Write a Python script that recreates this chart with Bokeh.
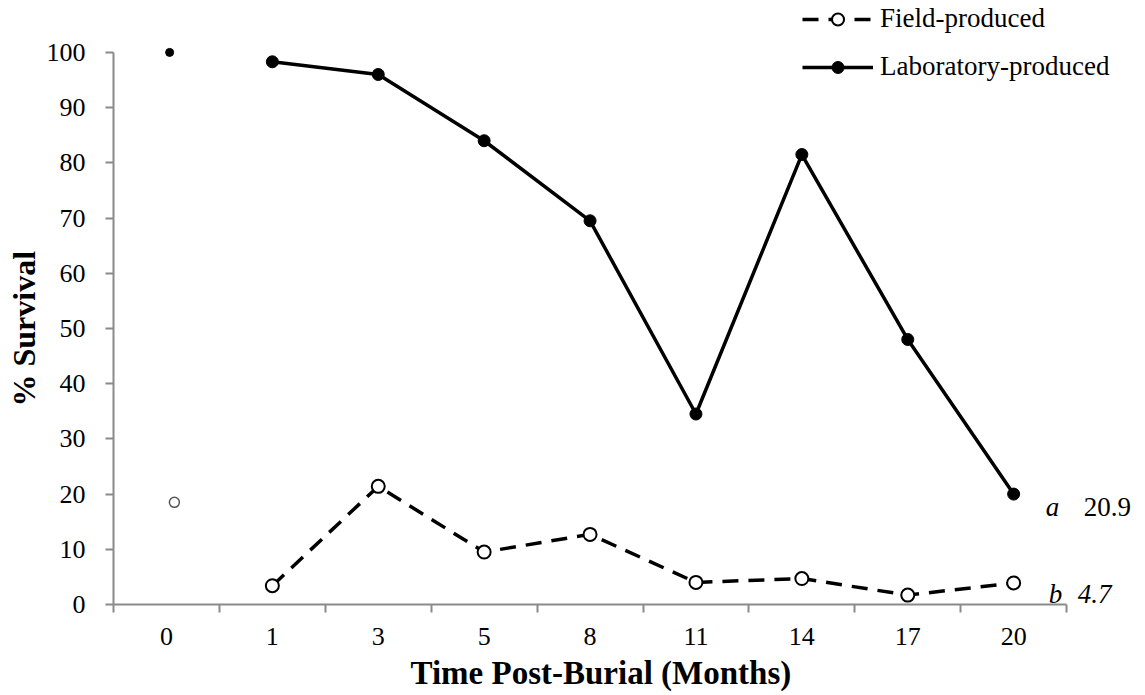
from bokeh.plotting import figure
from bokeh.models import (Range1d, FixedTicker, Legend, LegendItem, Label,
                          ColumnDataSource, Title)
from bokeh.transform import dodge
from bokeh.embed import file_html
from bokeh.resources import INLINE

# ---------------- data ----------------
months = ["0", "1", "3", "5", "8", "11", "14", "17", "20"]
lab_initial = 100.0
field_initial = 18.5
lab_survival = [98.3, 96.0, 84.0, 69.5, 34.5, 81.5, 48.0, 20.0]     # months 1..20
field_survival = [3.4, 21.4, 9.5, 12.7, 4.0, 4.7, 1.7, 3.9]        # months 1..20
series_names = ["Field-produced", "Laboratory-produced"]
group_letters = ["a", "b"]          # a: laboratory, b: field
group_means = ["20.9", "4.7"]
y_ticks = list(range(0, 101, 10))
x_title = "Time Post-Burial (Months)"
y_title = "% Survival"

idx = list(range(len(months)))
burial_x = idx[1:]

FONT = "Liberation Serif"
AXIS_GRAY = "#8a8a8a"

p = figure(width=1145, height=695, output_backend="svg", toolbar_location=None,
           x_range=Range1d(-0.5, 9.245), y_range=Range1d(0, 109.4),
           min_border_left=113, min_border_right=0, min_border_top=0,
           min_border_bottom=91)
p.title = None
p.outline_line_color = None
p.grid.visible = False
p.background_fill_color = "white"
p.border_fill_color = "white"

# x axis: ticks between categories, labels at centres
p.xaxis.ticker = FixedTicker(ticks=idx, minor_ticks=[i - 0.5 for i in range(len(months) + 1)])
p.xaxis.bounds = (-0.5, len(months) - 0.5)
p.xaxis.major_label_overrides = {i: m for i, m in enumerate(months)}
p.xaxis.major_tick_out = 0
p.xaxis.major_tick_in = 0
p.xaxis.minor_tick_out = 8
p.xaxis.minor_tick_in = 0
p.xaxis.minor_tick_line_color = AXIS_GRAY
p.xaxis.minor_tick_line_width = 2
p.xaxis.major_label_standoff = 15

# y axis
p.yaxis.ticker = FixedTicker(ticks=y_ticks, minor_ticks=[])
p.yaxis.bounds = (0, 100)
p.yaxis.major_tick_out = 8
p.yaxis.major_tick_in = 0
p.yaxis.major_tick_line_color = AXIS_GRAY
p.yaxis.major_tick_line_width = 2
p.yaxis.major_label_standoff = 20

for ax in (p.xaxis, p.yaxis):
    ax.axis_line_color = AXIS_GRAY
    ax.axis_line_width = 2
    ax.major_label_text_font = FONT
    ax.major_label_text_font_size = "26px"
    ax.major_label_text_color = "black"

# axis titles as positioned titles
p.add_layout(Title(text=x_title, align="left", offset=297, text_font=FONT,
                   text_font_size="33px", text_font_style="bold", text_color="black",
                   standoff=10), "below")
p.add_layout(Title(text=y_title, align="left", offset=198, text_font=FONT,
                   text_font_size="32px", text_font_style="bold", text_color="black",
                   standoff=4), "left")

# ---------------- series ----------------
lab_line = p.line(burial_x, lab_survival, line_color="black", line_width=3.5)
lab_pts = p.scatter(burial_x, lab_survival, size=12, fill_color="black", line_color="black")
field_line = p.line(burial_x, field_survival, line_color="black", line_width=3.5,
                    line_dash="16 10")
field_pts = p.scatter(burial_x, field_survival, size=13, fill_color="white",
                      line_color="black", line_width=2)

start_src = ColumnDataSource(dict(x=[idx[0]], lab=[lab_initial], field=[field_initial]))
p.scatter(x=dodge("x", 0.03), y="lab", source=start_src, size=8,
          fill_color="black", line_color="black")
p.scatter(x=dodge("x", 0.075), y="field", source=start_src, size=10,
          fill_color="white", line_color="#555555", line_width=1.5)

# ---------------- legend ----------------
legend = Legend(items=[LegendItem(label=series_names[0], renderers=[field_line, field_pts]),
                       LegendItem(label=series_names[1], renderers=[lab_line, lab_pts])],
                location=(689, 522), orientation="vertical",
                glyph_width=71, glyph_height=30, label_height=30, spacing=17,
                label_standoff=7, padding=0, margin=0,
                border_line_color=None, background_fill_alpha=0,
                label_text_font=FONT, label_text_font_size="27px",
                label_text_color="black")
p.add_layout(legend)

# ---------------- group annotations ----------------
last_x = idx[-1]
ann_style = dict(text_font=FONT, text_font_size="27px", text_color="black",
                 text_baseline="alphabetic")
p.add_layout(Label(x=last_x, y=lab_survival[-1], text=group_letters[0], x_offset=32,
                   y_offset=-13, text_font_style="italic", **ann_style))
p.add_layout(Label(x=last_x, y=lab_survival[-1], text=group_means[0], x_offset=70,
                   y_offset=-13, **ann_style))
p.add_layout(Label(x=last_x, y=field_survival[-1], text=group_letters[1], x_offset=35,
                   y_offset=-11, text_font_style="italic", **ann_style))
p.add_layout(Label(x=last_x, y=field_survival[-1], text=group_means[1], x_offset=64,
                   y_offset=-11, text_font_style="italic", **ann_style))

open("out.html", "w").write(file_html(p, INLINE))
